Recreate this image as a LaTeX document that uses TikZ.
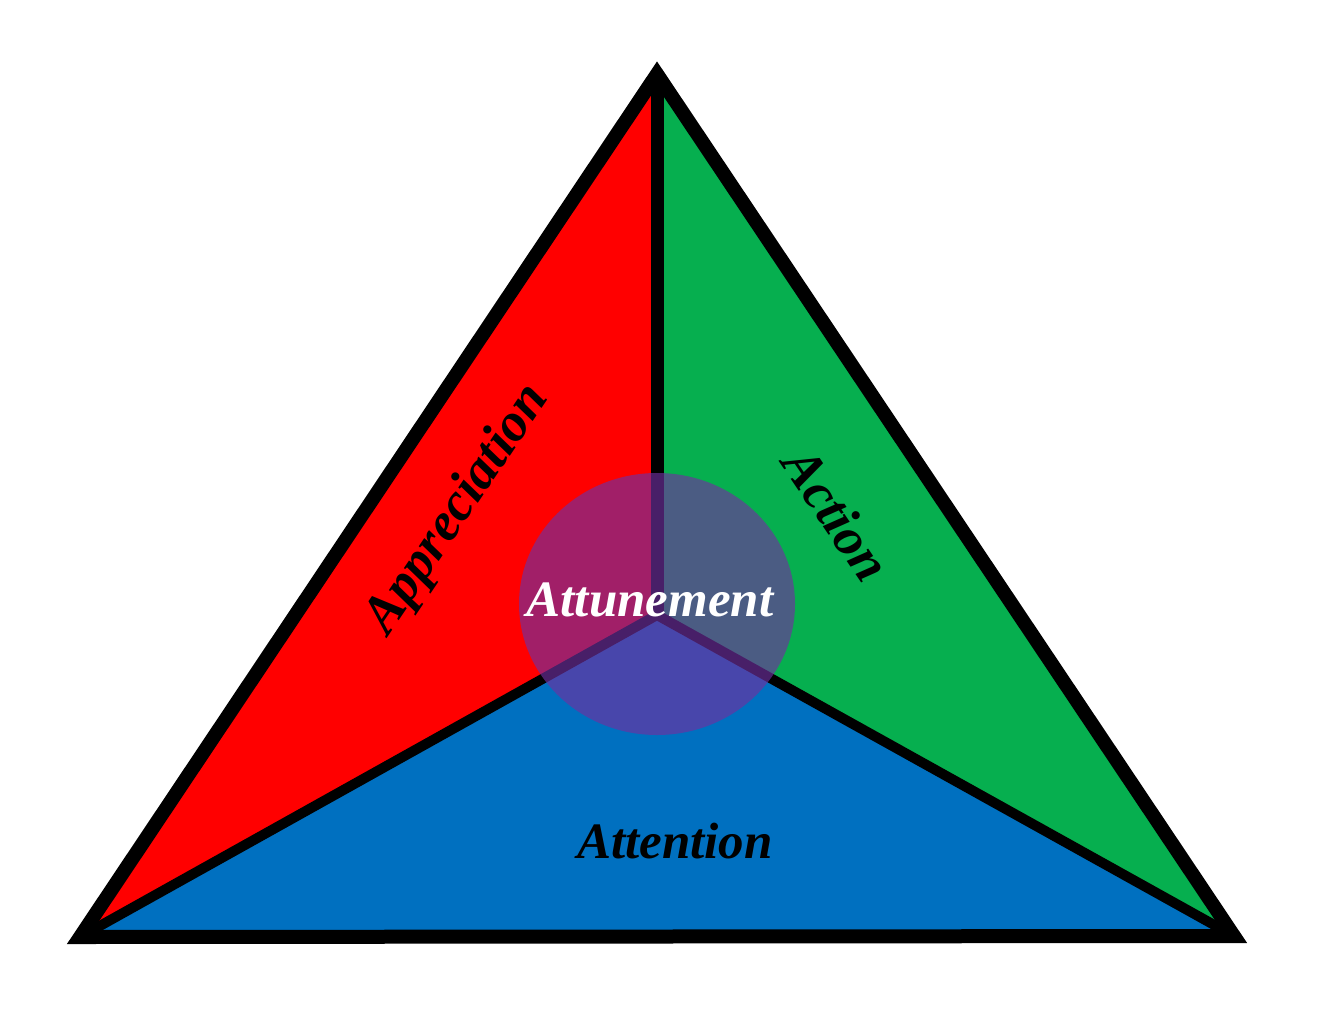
\documentclass[tikz,border=0pt]{standalone}
\usepackage{fontspec}
\setmainfont{Liberation Serif}
\definecolor{apprecred}{HTML}{FF0000}
\definecolor{actgreen}{HTML}{06AF4F}
\definecolor{attnblue}{HTML}{0070C0}
\definecolor{tunepurple}{HTML}{7030A0}

\begin{document}
\begin{tikzpicture}[x=1pt, y=-1pt,
  side/.style={line width=14pt, line join=miter, line cap=butt},
  word/.style={font=\fontsize{51}{60}\selectfont\bfseries\itshape, inner sep=0pt},
  slanted/.style={word, font=\fontsize{54}{60}\selectfont\bfseries\itshape}]
  \useasboundingbox (0,0) rectangle (1322,1028);
  % corners and centre of the triangle
  \coordinate (apex) at (657,74);
  \coordinate (left) at (80,937);
  \coordinate (right) at (1234,936);
  \coordinate (mid) at (657,615);
  % the three parts
  \fill[apprecred] (apex) -- (mid) -- (left) -- cycle;
  \fill[actgreen] (apex) -- (right) -- (mid) -- cycle;
  \fill[attnblue] (left) -- (mid) -- (right) -- cycle;
  \draw[side, line width=13pt] (apex) -- (mid);
  \draw[side, line width=10pt] (left) -- (mid) -- (right);
  \draw[side] (apex) -- (left) -- (right) -- cycle;
  % overlap in the middle
  \fill[tunepurple, opacity=0.65] (657,604) ellipse [x radius=138, y radius=131];
  \node[slanted, rotate=56] (appreciation) at (458,510) {Appreciation};
  \node[slanted, rotate=-56] (action) at (837,514) {Action};
  \node[word, text=white] (attunement) at (650,600) {Attunement};
  \node[word] (attention) at (675,841) {Attention};
\end{tikzpicture}
\end{document}
